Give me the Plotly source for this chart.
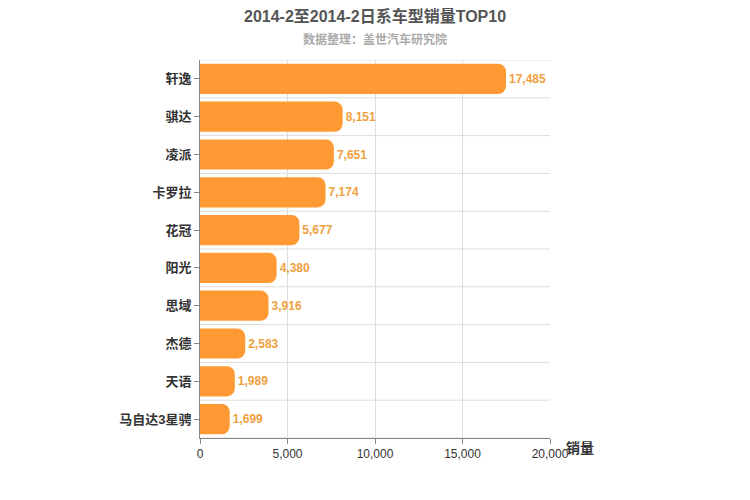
import plotly.graph_objects as go

models = ["轩逸", "骐达", "凌派", "卡罗拉", "花冠", "阳光", "思域", "杰德", "天语", "马自达3星骋"]
sales = [17485, 8151, 7651, 7174, 5677, 4380, 3916, 2583, 1989, 1699]
xticks = [0, 5000, 10000, 15000, 20000]

fig = go.Figure(go.Bar(
    y=models, x=sales, orientation="h",
    marker=dict(color="#FF9933", line=dict(width=0)),
    text=[f"<b>{v:,}</b>" for v in sales], textposition="outside",
    textfont=dict(color="#F0A040", size=12, family="Arial"),
    cliponaxis=False, width=0.8,
))
shapes = []
for i in range(len(models) + 1):
    shapes.append(dict(type="line", xref="paper", yref="y", x0=0, x1=1,
                       y0=i - 0.5, y1=i - 0.5, line=dict(color="#DDDDDD", width=1), layer="below"))
fig.update_layout(
    width=750, height=500, plot_bgcolor="white", paper_bgcolor="white",
    margin=dict(l=192, r=208, t=52, b=70, autoexpand=False),
    barcornerradius=8, showlegend=False, shapes=shapes,
    font=dict(family="Arial, Noto Sans CJK SC", color="#333333"),
    xaxis=dict(range=[0, 20000], tickvals=xticks, tickformat=",", showgrid=True, gridcolor="#DDDDDD",
               zeroline=False, showline=True, linecolor="#888888", ticks="outside", ticklen=5,
               tickcolor="#888888", tickfont=dict(size=12, color="#333333"), automargin=False),
    yaxis=dict(showline=True, linecolor="#888888", ticks="outside", automargin=False,
               ticklen=5, tickcolor="#888888", tickfont=dict(size=13, color="#333333"),
               range=[9.5, -0.5], tickvals=list(range(len(models))),
               ticktext=[f"<b>{m}</b>" for m in models]),
    annotations=[
        dict(text="<b>2014-2至2014-2日系车型销量TOP10</b>", xref="paper", yref="paper", x=0.5, y=1,
             yshift=44, xanchor="center", yanchor="middle", showarrow=False,
             font=dict(size=16, color="#555555")),
        dict(text="<b>数据整理：盖世汽车研究院</b>", xref="paper", yref="paper", x=0.5, y=1,
             yshift=21, xanchor="center", yanchor="middle", showarrow=False,
             font=dict(size=12, color="#AAAAAA")),
        dict(text="<b>销量</b>", xref="paper", yref="paper", x=1.04, y=0, xanchor="left",
             yanchor="top", showarrow=False, font=dict(size=14, color="#333333"))],
)
fig.write_html("out.html")
